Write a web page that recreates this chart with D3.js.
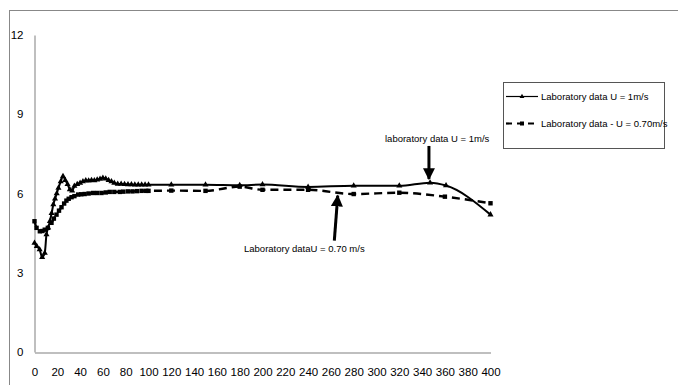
<!DOCTYPE html>
<html>
<head>
<meta charset="utf-8">
<script src="https://cdn.jsdelivr.net/npm/d3@7"></script>
<style>
  body { margin: 0; background: #fff; }
  svg { display: block; font-family: "Liberation Sans Narrow", "Arial Narrow", "Liberation Sans", sans-serif; }
</style>
</head>
<body>
<svg width="678" height="385"></svg>
<script>
// U = 1 m/s (solid, triangles)
const xFast = [0, 2, 4.5, 6.7, 9, 10.5, 12, 13.5, 15, 16.5, 18, 19.5, 21, 23, 25, 27, 29, 31, 33, 35,
  37.5, 40, 42.5, 45, 47.5, 50, 52.5, 55, 57.5, 60, 62.5, 65, 67.5, 70, 73, 76, 79, 82, 85, 88, 91, 94, 97, 100,
  120, 150, 180, 200, 240, 280, 320, 347, 361, 400]
const yFast = [4.13, 4.0, 3.88, 3.59, 3.75, 4.45, 4.7, 4.95, 5.25, 5.58, 5.8, 6.0, 6.21, 6.45, 6.65, 6.5, 6.35, 6.15, 6.1, 6.28,
  6.35, 6.4, 6.45, 6.49, 6.48, 6.5, 6.49, 6.52, 6.55, 6.59, 6.56, 6.5, 6.45, 6.4, 6.36, 6.36, 6.35, 6.34, 6.34, 6.33, 6.33, 6.33, 6.33, 6.33,
  6.33, 6.33, 6.31, 6.34, 6.25, 6.29, 6.29, 6.41, 6.3, 5.2]

// U = 0.70 m/s (dashed, squares)
const xSlow = [0, 1.8, 4.7, 7, 9, 11.7, 14.9, 17, 19.3, 21.5, 23.7, 26, 28, 30, 32.5, 35, 38.3, 41, 44, 47.5,
  51.4, 55, 58.8, 62.5, 66, 70, 74.8, 78, 82, 86, 90, 94, 98, 100,
  120, 150, 180, 200, 240, 280, 320, 360, 400]
const ySlow = [4.95, 4.7, 4.57, 4.58, 4.63, 4.7, 4.89, 5.05, 5.2, 5.35, 5.48, 5.62, 5.73, 5.8, 5.86, 5.9, 5.96, 5.97, 5.98, 6.0,
  6.02, 6.02, 6.02, 6.04, 6.06, 6.06, 6.06, 6.07, 6.08, 6.08, 6.09, 6.1, 6.1, 6.1,
  6.11, 6.1, 6.26, 6.14, 6.14, 5.98, 6.03, 5.88, 5.63]

const yTicks = [0, 3, 6, 9, 12]
const xTicks = d3.range(0, 401, 20)
const legendLabels = ["Laboratory data  U = 1m/s", "Laboratory data - U = 0.70m/s"]

const svg = d3.select("svg")

// chart border
svg.append("rect")
  .attr("x", 9.5).attr("y", 10.5)
  .attr("width", 700).attr("height", 400)
  .attr("fill", "none").attr("stroke", "#888")

const x = d3.scaleLinear().domain([0, 400]).range([34.5, 490.5])
const y = d3.scaleLinear().domain([0, 12]).range([352, 35])

const yAxis = svg.append("g")
  .attr("transform", "translate(34.5,0)")
  .call(d3.axisLeft(y).tickValues(yTicks).tickSize(0).tickPadding(11))
const xAxis = svg.append("g")
  .attr("transform", "translate(0,352.5)")
  .call(d3.axisBottom(x).tickValues(xTicks).tickSize(0).tickPadding(15))
for (const g of [yAxis, xAxis]) {
  g.select(".domain").attr("stroke", "#aaa").attr("stroke-width", 1.5)
  g.selectAll("text").attr("font-size", 11.5).attr("fill", "#000")
    .attr("font-family", "'Liberation Sans Narrow', 'Liberation Sans', sans-serif")
}

const toPts = (xs, ys) => xs.map((v, i) => [v, ys[i]])
const line = d3.line().x(d => x(d[0])).y(d => y(d[1])).curve(d3.curveMonotoneX)

const fast = toPts(xFast, yFast)
const slow = toPts(xSlow, ySlow)

svg.append("path").attr("d", line(slow))
  .attr("fill", "none").attr("stroke", "#000").attr("stroke-width", 2.4)
  .attr("stroke-dasharray", "8,5")
svg.append("path").attr("d", line(fast))
  .attr("fill", "none").attr("stroke", "#000").attr("stroke-width", 2)

svg.append("g").selectAll("rect").data(slow).join("rect")
  .attr("x", d => x(d[0]) - 2.2).attr("y", d => y(d[1]) - 2.2)
  .attr("width", 4.4).attr("height", 4.4).attr("fill", "#000")
svg.append("g").selectAll("path").data(fast).join("path")
  .attr("d", d3.symbol(d3.symbolTriangle, 16))
  .attr("transform", d => `translate(${x(d[0])},${y(d[1])})`)
  .attr("fill", "#000")

// legend
const lg = svg.append("g")
lg.append("rect").attr("x", 503.5).attr("y", 82.5).attr("width", 161).attr("height", 66)
  .attr("fill", "#fff").attr("stroke", "#555")
const rows = [96.5, 123.5]
lg.append("line").attr("x1", 506).attr("x2", 538).attr("y1", rows[0]).attr("y2", rows[0])
  .attr("stroke", "#000").attr("stroke-width", 1.2)
lg.append("path").attr("d", d3.symbol(d3.symbolTriangle, 10))
  .attr("transform", `translate(522,${rows[0]})`)
lg.append("line").attr("x1", 506).attr("x2", 538).attr("y1", rows[1]).attr("y2", rows[1])
  .attr("stroke", "#000").attr("stroke-width", 2.2).attr("stroke-dasharray", "6,5")
lg.append("rect").attr("x", 520).attr("y", rows[1] - 2).attr("width", 4).attr("height", 4)
lg.selectAll("text").data(legendLabels).join("text")
  .attr("x", 541).attr("y", (d, i) => rows[i]).attr("dy", "0.35em")
  .attr("font-size", 9.5).text(d => d)

// annotations
svg.append("defs").append("marker")
  .attr("id", "ah").attr("viewBox", "0 0 10 10").attr("refX", 9).attr("refY", 5)
  .attr("markerWidth", 4).attr("markerHeight", 4).attr("markerUnits", "strokeWidth")
  .attr("orient", "auto")
  .append("path").attr("d", "M0,0L10,5L0,10Z").attr("fill", "#000")

const arrows = [
  { from: [346, 7.8], to: [346, 6.55] },
  { from: [263, 4.22], to: [266, 5.92] }
]
svg.append("g").selectAll("line").data(arrows).join("line")
  .attr("x1", d => x(d.from[0])).attr("y1", d => y(d.from[1]))
  .attr("x2", d => x(d.to[0])).attr("y2", d => y(d.to[1]))
  .attr("stroke", "#000").attr("stroke-width", 3).attr("marker-end", "url(#ah)")

svg.append("text").attr("x", 385).attr("y", 138.5).attr("dy", "0.35em")
  .attr("font-size", 9.5).text("laboratory data U = 1m/s")
svg.append("text").attr("x", 244).attr("y", 248.5).attr("dy", "0.35em")
  .attr("font-size", 9.5).text("Laboratory dataU = 0.70 m/s")
</script>
</body>
</html>
